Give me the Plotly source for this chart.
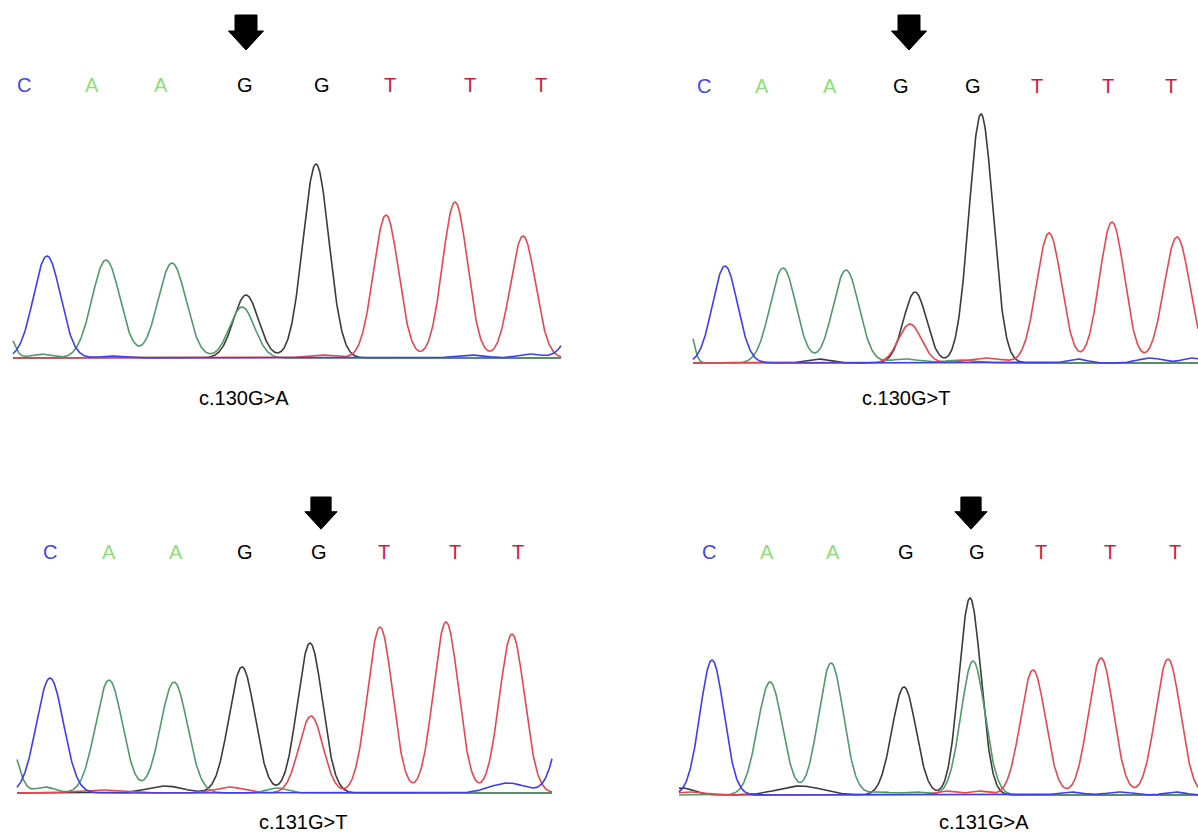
import numpy as np
import plotly.graph_objects as go

FIG_W, FIG_H = 1198, 833

# ---------------- data ----------------
seq = ["C", "A", "A", "G", "G", "T", "T", "T"]
titles = ["c.130G>A", "c.130G>T", "c.131G>T", "c.131G>A"]

# base-call positions (scan units) for each panel
calls_1 = [24, 92, 161, 245, 322, 390, 470, 541]
calls_2 = [704, 762, 830, 901, 973, 1037, 1108, 1171]
calls_3 = [50, 109, 176, 245, 319, 384, 455, 518]
calls_4 = [709, 767, 833, 906, 977, 1041, 1110, 1175]

# mutated position marker and caption positions (scan units)
arrow_x = [246, 909, 321, 971]
title_x = [244, 906, 303, 984]

# scan window of each trace
scan_start = [13, 693, 17, 679]
scan_end = [561, 1198, 552, 1198]

# peaks: channel, centre (scan), height (signal), width (sigma)
p1_ch  = ["C", "C", "C", "C", "C", "A", "A", "A", "A", "A", "G", "G", "T", "T", "T", "T"]
p1_pos = [47, 110, 469, 530, 582, 8, 40, 106, 172, 242, 246, 316, 319, 386, 455, 523]
p1_hgt = [102, 2, 3, 4, 45, 24, 4, 98, 95, 51, 63, 194, 3, 143, 156, 122]
p1_wid = [13.5, 10, 15, 12, 13, 6, 10, 14, 14, 12.5, 12.5, 13, 15, 12.5, 12.5, 12.5]

p2_ch  = ["C", "C", "C", "C", "A", "A", "A", "A", "A", "G", "G", "G", "T", "T", "T", "T", "T"]
p2_pos = [725, 1077, 1150, 1192, 688, 783, 846, 905, 960, 818, 915, 981, 910, 985, 1049, 1112, 1177]
p2_hgt = [97, 4, 5, 5, 40, 95, 93, 4, 3, 4, 71, 249, 39, 5, 130, 141, 126]
p2_wid = [12.5, 10, 12, 10, 5, 13, 13, 15, 15, 12, 11.5, 12, 11.5, 18, 12.5, 12.5, 13]

p3_ch  = ["C", "C", "C", "A", "A", "A", "A", "A", "G", "G", "G", "T", "T", "T", "T", "T", "T"]
p3_pos = [50, 508, 572, 8, 45, 109, 174, 277, 165, 242, 310, 100, 229, 311, 380, 446, 512]
p3_hgt = [115, 10, 110, 55, 6, 113, 111, 5, 7, 126, 150, 3, 6, 77, 166, 171, 159]
p3_wid = [13.5, 18, 13, 9, 10, 13.5, 13.5, 10, 18, 13, 12.5, 25, 15, 12, 12.5, 12.5, 12.5]

p4_ch  = ["C", "C", "C", "C", "A", "A", "A", "A", "A", "G", "G", "G", "G", "T", "T", "T", "T", "T", "T"]
p4_pos = [712, 1070, 1120, 1175, 770, 831, 880, 915, 973, 682, 800, 904, 970, 690, 945, 978, 1033, 1101, 1168]
p4_hgt = [135, 3, 3, 3, 113, 132, 3, 3, 134, 7, 9, 108, 197, 3, 4, 4, 125, 137, 136]
p4_wid = [12, 12, 12, 10, 12.5, 12.5, 12, 12, 12, 12, 22, 12, 11, 15, 10, 10, 12.5, 12.5, 12.5]

# ---------------- styling / layout geometry ----------------
letter_color = {"C": "#3f44f0", "A": "#8ddd7a", "G": "#000000", "T": "#d3163d"}
trace_color = {"C": "#3d3df2", "A": "#52996a", "G": "#3b3b3b", "T": "#e6464f"}
FONT = "Liberation Sans, Arial, sans-serif"

panels = [
    dict(calls=calls_1, ch=p1_ch, pos=p1_pos, hgt=p1_hgt, wid=p1_wid,
         col=0, row=0, base_px=358, letter_px=85, arrow_px=15, title_px=398),
    dict(calls=calls_2, ch=p2_ch, pos=p2_pos, hgt=p2_hgt, wid=p2_wid,
         col=1, row=0, base_px=363, letter_px=86, arrow_px=15, title_px=398),
    dict(calls=calls_3, ch=p3_ch, pos=p3_pos, hgt=p3_hgt, wid=p3_wid,
         col=0, row=1, base_px=793, letter_px=552, arrow_px=497, title_px=822),
    dict(calls=calls_4, ch=p4_ch, pos=p4_pos, hgt=p4_hgt, wid=p4_wid,
         col=1, row=1, base_px=795, letter_px=552, arrow_px=497, title_px=822),
]

row_px = [(0, 430), (440, 833)]
col_px = [(0, 599), (599, 1198)]

fig = go.Figure()
layout = dict(
    width=FIG_W, height=FIG_H,
    margin=dict(l=0, r=0, t=0, b=0),
    paper_bgcolor="white", plot_bgcolor="white",
    showlegend=False,
    annotations=[], shapes=[],
)

draw_order = ["G", "A", "T", "C"]

for i, p in enumerate(panels):
    n = i + 1
    xa = "x" if n == 1 else f"x{n}"
    ya = "y" if n == 1 else f"y{n}"
    xkey = "xaxis" if n == 1 else f"xaxis{n}"
    ykey = "yaxis" if n == 1 else f"yaxis{n}"
    c0, c1 = col_px[p["col"]]
    r0, r1 = row_px[p["row"]]
    base = p["base_px"]
    layout[xkey] = dict(domain=[c0 / FIG_W, c1 / FIG_W], range=[c0, c1],
                        visible=False, fixedrange=True)
    layout[ykey] = dict(domain=[1 - r1 / FIG_H, 1 - r0 / FIG_H],
                        range=[base - r1, base - r0], visible=False, fixedrange=True)
    if n > 1:
        layout[xkey]["anchor"] = ya
        layout[ykey]["anchor"] = xa

    # traces
    xs = np.arange(scan_start[i], scan_end[i] + 0.01, 0.5)
    for chn in draw_order:
        ys = np.zeros_like(xs)
        for c, m, h, w in zip(p["ch"], p["pos"], p["hgt"], p["wid"]):
            if c == chn:
                ys += h * np.exp(-((xs - m) ** 2) / (2 * w * w))
        fig.add_trace(go.Scatter(x=xs, y=ys, mode="lines", xaxis=xa, yaxis=ya,
                                 line=dict(color=trace_color[chn], width=1.6),
                                 hoverinfo="skip"))

    # base letters
    for b, xpos in zip(seq, p["calls"]):
        layout["annotations"].append(dict(
            x=xpos, y=base - p["letter_px"], xref=xa, yref=ya, text=b,
            showarrow=False, font=dict(family=FONT, size=20, color=letter_color[b]),
            xanchor="center", yanchor="middle"))

    # caption
    layout["annotations"].append(dict(
        x=title_x[i], y=base - p["title_px"], xref=xa, yref=ya, text=titles[i],
        showarrow=False, font=dict(family=FONT, size=20, color="black"),
        xanchor="center", yanchor="middle"))

    # block arrow marking the variant
    ax = arrow_x[i]
    top = base - p["arrow_px"]
    sc = 1.0 if p["row"] == 0 else 0.92
    head = top - 16 * sc
    tip = top - 35 * sc
    sh, hh = 11 * sc, 17.5 * sc
    path = (f"M {ax - sh},{top} L {ax + sh},{top} L {ax + sh},{head} L {ax + hh},{head} "
            f"L {ax},{tip} L {ax - hh},{head} L {ax - sh},{head} Z")
    layout["shapes"].append(dict(type="path", path=path, xref=xa, yref=ya,
                                 fillcolor="black", line=dict(color="black", width=1)))

fig.update_layout(**layout)
fig.write_html("out.html",
               config={"displayModeBar": False, "staticPlot": True},
               post_script="document.body.style.margin='0';document.body.style.overflow='hidden';")
